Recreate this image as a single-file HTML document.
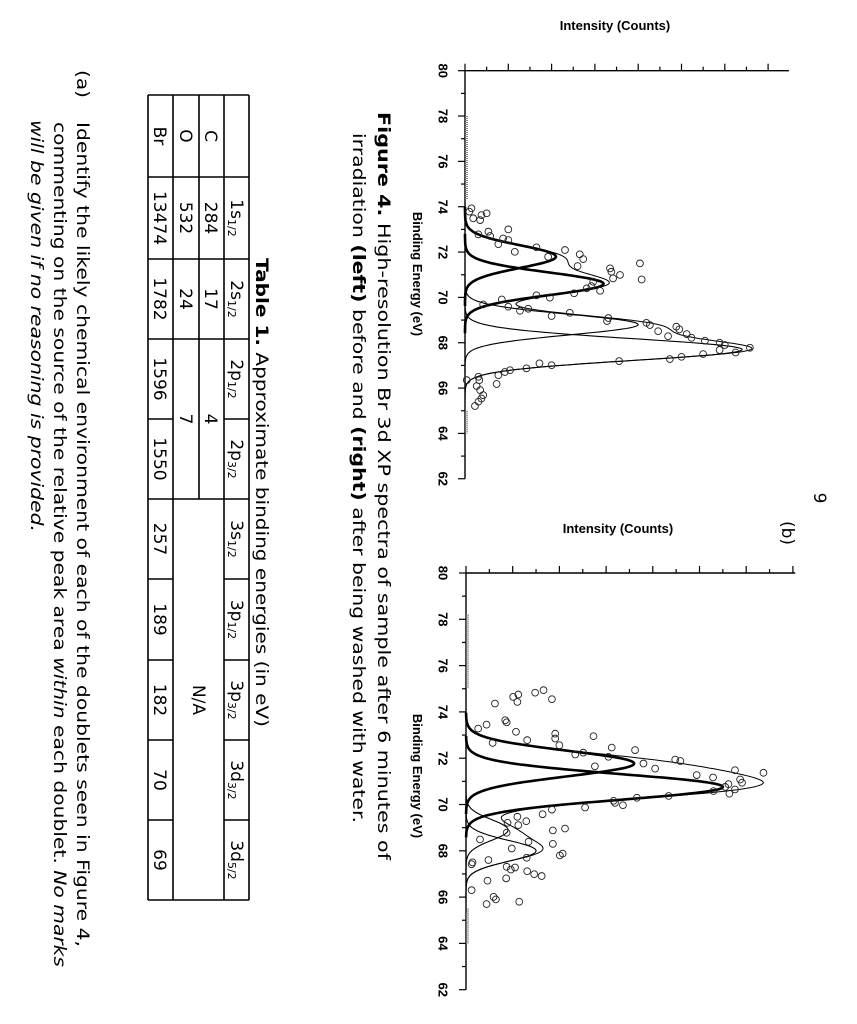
<!DOCTYPE html>
<html><head><meta charset="utf-8"><style>
html,body{margin:0;padding:0;background:#fff}
svg{display:block}
.ax{font-family:"Liberation Sans",Arial,sans-serif;font-weight:bold;font-size:13px;fill:#000}
.tx{font-family:"DejaVu Sans","Liberation Sans",sans-serif;font-size:17px;fill:#000}
.tb{font-family:"DejaVu Sans","Liberation Sans",sans-serif;font-size:17px;fill:#000}
.sub{font-size:11px}
</style></head><body>
<svg id="page" width="857" height="1024" viewBox="0 0 857 1024" xmlns="http://www.w3.org/2000/svg">
<g id="charts"></g>
<!-- horizontal intensity titles -->
<text class="ax" x="615" y="30" text-anchor="middle">Intensity (Counts)</text>
<text class="ax" x="618" y="533" text-anchor="middle">Intensity (Counts)</text>
<!-- rotated page content -->
<g transform="translate(857,0) rotate(90)">
  <text class="tx" x="498" y="43" text-anchor="middle">9</text>
  <text class="tx" x="533" y="75" text-anchor="middle" font-size="14">(b)</text>
  <text class="ax" x="274" y="444" text-anchor="middle">Binding Energy (eV)</text>
  <text class="ax" x="776" y="444" text-anchor="middle">Binding Energy (eV)</text>
  <text class="tx" x="112" y="479" textLength="748" lengthAdjust="spacingAndGlyphs"><tspan font-weight="bold">Figure 4.</tspan> High-resolution Br 3d XP spectra of sample after 6 minutes of</text>
  <text class="tx" x="133" y="504" textLength="690" lengthAdjust="spacingAndGlyphs">irradiation <tspan font-weight="bold">(left)</tspan> before and <tspan font-weight="bold">(right)</tspan> after being washed with water.</text>
  <text class="tx" x="258" y="601" textLength="469" lengthAdjust="spacingAndGlyphs"><tspan font-weight="bold">Table 1.</tspan> Approximate binding energies (in eV)</text>
  <g id="table"></g>
  <text class="tx" x="70" y="780" textLength="28" lengthAdjust="spacingAndGlyphs">(a)</text>
  <text class="tx" x="122" y="780" textLength="825" lengthAdjust="spacingAndGlyphs">Identify the likely chemical environment of each of the doublets seen in Figure 4,</text>
  <text class="tx" x="122" y="803" textLength="845" lengthAdjust="spacingAndGlyphs">commenting on the source of the relative peak area <tspan font-style="italic">within</tspan> each doublet. <tspan font-style="italic">No marks</tspan></text>
  <text class="tx" x="120" y="826" textLength="412" lengthAdjust="spacingAndGlyphs" font-style="italic">will be given if no reasoning is provided.</text>
</g>
</svg>
<script>
// ---- chart data ----
const energyTicks = [80,78,76,74,72,70,68,66,64,62];
const leftPeakCenters = [71.8, 70.6, 68.8, 67.7];
const leftPeakHeights = [2.1, 3.2, 4.0, 6.4];
const leftPeakWidths = [0.5, 0.5, 0.45, 0.48];
const leftPeakThick = [true, true, false, false];
const rightPeakCenters = [71.77, 70.76, 68.9, 68.0];
const rightPeakHeights = [3.6, 5.5, 0.9, 1.5];
const rightPeakWidths = [0.55, 0.55, 0.45, 0.45];
const rightPeakThick = [true, true, false, false];
const leftPointsE = [73.93,73.78,73.49,73.41,73.63,73.71,72.90,72.78,72.71,72.35,72.60,73.00,72.53,72.01,72.21,72.09,71.90,71.69,71.79,71.38,71.28,71.13,70.84,70.99,71.50,70.79,70.69,70.50,70.29,70.40,70.18,70.09,69.99,69.91,69.69,69.59,69.41,69.50,69.18,69.32,69.09,68.96,68.88,68.78,68.51,68.29,68.71,68.59,68.38,68.22,68.09,68.00,67.90,67.68,67.78,67.57,67.50,67.38,67.28,67.19,67.01,67.09,66.87,66.79,66.71,66.57,66.18,66.50,66.35,66.09,65.91,65.69,65.54,65.40,65.21,66.35];
const leftPointsI = [.15,.10,.19,.35,.38,.50,.54,.31,.58,.77,.88,1.00,1.00,1.15,1.65,2.31,2.65,2.73,1.92,2.60,3.35,3.38,3.42,3.58,4.04,4.08,2.96,2.92,3.12,2.81,2.52,1.65,1.96,.85,.42,1.00,1.27,1.46,2.00,2.42,3.31,3.28,4.19,4.27,4.46,4.69,4.88,4.95,5.12,5.23,5.54,5.88,6.00,5.88,6.58,6.25,5.50,5.00,4.73,3.56,2.00,1.72,1.42,1.04,.92,.77,.73,.31,.33,.27,.35,.42,.38,.31,.23,.04];
const rightPointsE = [74.36,74.65,74.75,74.43,74.83,74.94,74.55,73.28,73.45,73.64,73.55,73.14,72.66,72.78,73.06,72.85,72.56,72.95,72.16,72.24,72.46,72.06,72.35,71.77,71.55,71.94,71.88,71.65,71.27,71.17,71.48,71.37,71.08,70.94,70.65,70.88,70.76,70.47,70.58,70.37,70.29,70.16,70.07,69.97,69.87,69.78,69.58,69.47,69.28,69.11,69.21,68.78,68.96,68.88,68.30,67.80,67.88,68.39,68.10,67.70,67.60,67.50,67.42,67.31,67.28,67.19,67.12,66.99,66.91,66.81,66.71,66.30,66.01,65.90,65.70,65.80,68.49];
const rightPointsI = [.62,1.01,1.12,1.10,1.48,1.66,1.84,.26,.44,.84,.87,1.07,.57,1.31,1.91,1.91,2.00,2.73,2.34,2.51,3.12,3.05,3.62,3.80,4.05,4.48,4.59,2.76,4.94,5.29,5.76,6.37,5.87,5.91,5.76,5.62,5.55,5.64,5.30,4.34,3.66,3.16,3.19,3.36,2.55,1.84,1.64,1.10,1.29,1.12,.89,.87,2.12,1.86,1.86,2.01,2.07,1.34,.98,1.30,.48,.14,.12,.87,1.05,.96,1.31,1.46,1.62,.86,.46,.12,.59,.64,.44,1.14,.30];
const leftBackground = [[78,74.3],[65,64]];
const rightBackground = [[78.2,75],[65.5,64]];

const NS = "http://www.w3.org/2000/svg";
function mk(tag, attrs, parent){ const e=document.createElementNS(NS,tag); for(const k in attrs) e.setAttribute(k,attrs[k]); parent.appendChild(e); return e; }
const charts = document.getElementById('charts');

function drawChart(id, cfg){
  const g = mk('g',{},charts);
  
  
  const yE = E => cfg.y80 + (80-E)*cfg.pxPerE;
  const xI = I => cfg.x0 + I*cfg.pxPerI;
  // energy axis
  const ax = mk('line',{x1:cfg.x0,y1:yE(80),x2:cfg.x0,y2:yE(62),stroke:'#000','stroke-width':1.4},g);
  
  
  for(let E=80;E>=62;E--){
    const major = E%2===0;
    const t = mk('line',{x1:cfg.x0-(major?7:4),y1:yE(E),x2:cfg.x0,y2:yE(E),stroke:'#000','stroke-width':1.2},g);
    
    
  }
  energyTicks.forEach(E=>{
    const t = mk('text',{class:'ax',x:443,y:yE(E),'text-anchor':'middle','dominant-baseline':'central',transform:`rotate(90 443 ${yE(E)})`},g);
    t.textContent = E;
    
    
  });
  // intensity axis
  const ay = mk('line',{x1:cfg.x0,y1:yE(80),x2:xI(cfg.Imax),y2:yE(80),stroke:'#000','stroke-width':1.4},g);
  
  
  for(let k=0;k<=cfg.Imax*2;k++){
    const I=k/2, major = k%2===0;
    const t = mk('line',{x1:xI(I),y1:yE(80)-(major?7:4),x2:xI(I),y2:yE(80),stroke:'#000','stroke-width':1.2},g);
    
    
  }
  // background segments
  cfg.bg.forEach(s=>{
    const b = mk('line',{x1:cfg.x0+1.5,y1:yE(s[0]),x2:cfg.x0+1.5,y2:yE(s[1]),stroke:'#888','stroke-width':3,'stroke-dasharray':'1 1'},g);
    
    
  });
  const gauss=(E,i)=>cfg.h[i]*Math.exp(-Math.pow(E-cfg.c[i],2)/(2*cfg.w[i]*cfg.w[i]));
  // components
  cfg.c.forEach((c,i)=>{
    let d='';
    for(let E=c+2.2;E>=c-2.2;E-=0.03){ d+=(d?'L':'M')+xI(gauss(E,i)).toFixed(1)+','+yE(E).toFixed(1); }
    const p = mk('path',{d:d,fill:'none',stroke:'#000','stroke-width':cfg.thick[i]?2.6:1.1},g);
    
    
  });
  // envelope
  let d='';
  for(let E=74.3;E>=65.3;E-=0.03){ let s=0; for(let i=0;i<cfg.c.length;i++) s+=gauss(E,i); d+=(d?'L':'M')+xI(s).toFixed(1)+','+yE(E).toFixed(1); }
  const env = mk('path',{d:d,fill:'none',stroke:'#000','stroke-width':1},g);
  
  
  // points
  cfg.pE.forEach((E,i)=>{
    const c = mk('circle',{cx:xI(cfg.pI[i]),cy:yE(E),r:3.4,fill:'none',stroke:'#222','stroke-width':0.9},g);
    
    
  });
}
drawChart('left-spectrum-chart',{x0:465,pxPerI:43.3,Imax:7.48,y80:70.7,pxPerE:22.67,c:leftPeakCenters,h:leftPeakHeights,w:leftPeakWidths,thick:leftPeakThick,pE:leftPointsE,pI:leftPointsI,bg:leftBackground});
drawChart('right-spectrum-chart',{x0:466,pxPerI:46.7,Imax:7.05,y80:573,pxPerE:23.15,c:rightPeakCenters,h:rightPeakHeights,w:rightPeakWidths,thick:rightPeakThick,pE:rightPointsE,pI:rightPointsI,bg:rightBackground});

// ---- table ----
const colEdges=[95,177,259,339,419,499,579,660,740,820,900];
const rowEdges=[608,633,658,684,709];
const tbl=document.getElementById('table');
function L(x1,y1,x2,y2){ const l=mk('line',{x1,y1,x2,y2,stroke:'#000','stroke-width':1.6},tbl);
  
   }
L(95,608,900,608); L(95,633,900,633); L(95,684,900,684); L(95,709,900,709); L(95,658,499,658);
colEdges.forEach((x,i)=>{
  if(i===0||i===1||i===2||i===3||i===5||i===10) L(x,608,x,709);
  else { L(x,608,x,633); L(x,684,x,709); }
});
function T(txt,x,y,sub,name){
  const t=mk('text',{class:'tb',x:x,y:y,'text-anchor':'middle'},tbl);
  t.textContent=txt;
  if(sub){ const s=mk('tspan',{class:'sub',dy:3},t); s.textContent=sub; }
  
  
}
const heads=[['1s','1/2'],['2s','1/2'],['2p','1/2'],['2p','3/2'],['3s','1/2'],['3p','1/2'],['3p','3/2'],['3d','3/2'],['3d','5/2']];
heads.forEach((h,i)=>T(h[0],(colEdges[i+1]+colEdges[i+2])/2,626,h[1],'table-header-cell'));
T('C',136,652,null,'row-label-c'); T('O',136,677,null,'row-label-o'); T('Br',136,703,null,'row-label-br');
T('284',218,652,null,'cell'); T('17',299,652,null,'cell'); T('4',419,652,null,'cell');
T('532',218,677,null,'cell'); T('24',299,677,null,'cell'); T('7',419,677,null,'cell');
T('N/A',700,664,null,'cell-na');
['13474','1782','1596','1550','257','189','182','70','69'].forEach((v,i)=>T(v,(colEdges[i+1]+colEdges[i+2])/2,703,null,'cell'));
</script>
</body></html>
